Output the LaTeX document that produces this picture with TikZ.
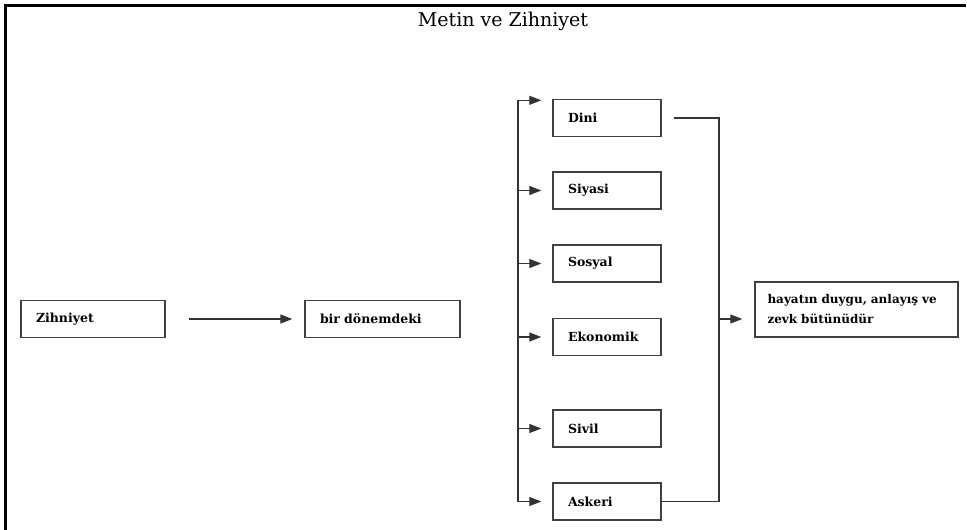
\documentclass[tikz,border=0pt]{standalone}
\usepackage{fontspec}
\setmainfont{DejaVu Serif}
\usetikzlibrary{arrows.meta,calc}

\tikzset{
  kutu/.style={draw=black!75, line width=1.4pt, minimum height=37pt, inner xsep=15pt,
    align=left, font=\bfseries\fontsize{12.5}{20}\selectfont},
  ok/.style={draw=black!80, line width=1.2pt, -{Triangle[length=12pt,width=9pt]}},
  hat/.style={draw=black!80, line width=1.2pt}
}

\begin{document}
\begin{tikzpicture}[x=1pt, y=-1pt]
    \useasboundingbox (0,0) rectangle (967,530);

    % Frame and title
    \draw[line width=3pt] (5,530) -- (5,5.5) -- (966,5.5);
    \node (baslik) at (503,21) {\fontsize{19}{21}\selectfont Metin ve Zihniyet};

    % Left part
    \node (zihniyet) at (93,319) [kutu, text width=114pt] {Zihniyet};
    \node (donem) at (382.5,319) [kutu, text width=125pt] {bir dönemdeki};
    \draw[ok, shorten <=23pt, shorten >=12pt] (zihniyet) -- (donem);

    % Middle column
    \node (dini) at (607,118) [kutu, text width=78pt] {Dini};
    \node (siyasi) at (607,190.5) [kutu, text width=78pt] {Siyasi};
    \node (sosyal) at (607,263.5) [kutu, text width=78pt] {Sosyal};
    \node (ekonomik) at (607,337) [kutu, text width=78pt] {Ekonomik};
    \node (sivil) at (607,428.5) [kutu, text width=78pt] {Sivil};
    \node (askeri) at (607,501.5) [kutu, text width=78pt] {Askeri};

    % Right box
    \node (sonuc) at (856.5,309.5) [kutu, text width=178pt, inner xsep=12.5pt,
        minimum height=55pt, font=\bfseries\fontsize{12}{20}\selectfont]
        {hayatın duygu, anlayış ve\\zevk bütünüdür};

    % Collectors
    \coordinate (solbus) at (518,319);
    \coordinate (sagbus) at (719,319);
    \coordinate (diniust) at ($(dini.north west)+(0,1.5)$);
    \draw[hat] (solbus |- diniust) -- (solbus |- askeri.west);
    \draw[ok, shorten >=11pt] (solbus |- diniust) -- (diniust);
    \foreach \k in {siyasi, sosyal, ekonomik, sivil, askeri}
        \draw[ok, shorten >=11pt] (solbus |- \k.west) -- (\k.west);
    \draw[hat, shorten <=12pt] (dini.east) -- (dini.east -| sagbus)
        -- (askeri.east -| sagbus) -- (askeri.east);
    \draw[ok, shorten >=12pt] (sagbus) -- (sagbus -| sonuc.west);
\end{tikzpicture}
\end{document}
